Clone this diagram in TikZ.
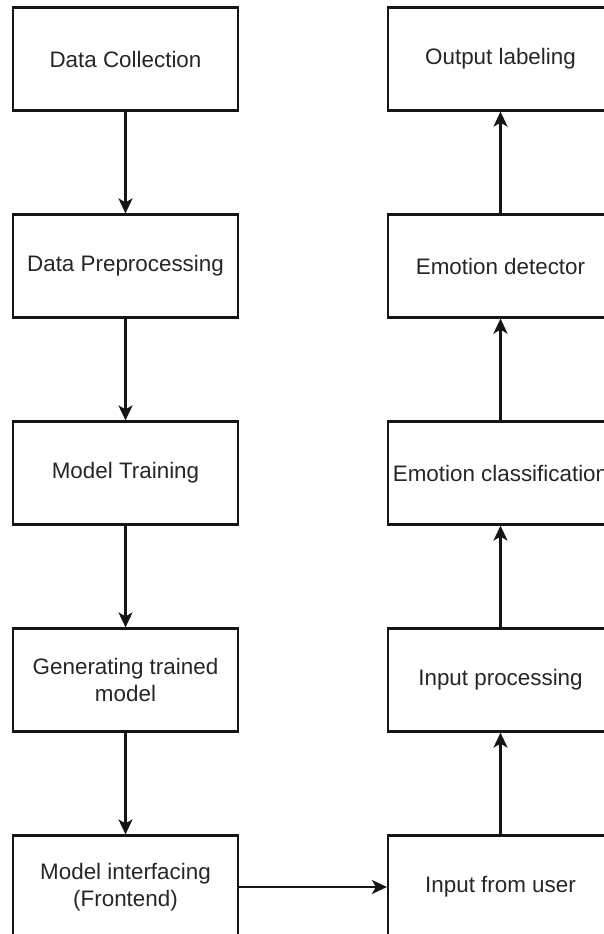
\documentclass[tikz,border=0pt]{standalone}
\usepackage{fontspec}
\setmainfont{Liberation Sans}
\usetikzlibrary{arrows.meta}
\definecolor{txt}{HTML}{262626}
\definecolor{ln}{HTML}{151515}
\begin{document}
\begin{tikzpicture}[x=1pt,y=1pt,
  box/.style={draw=ln, line width=2.2pt, minimum width=225pt, minimum height=103pt,
    inner sep=0pt, align=center, text=txt,
    font=\fontsize{22.4}{26.5}\selectfont},
  conn/.style={draw=ln, line width=2.2pt, -{Stealth[length=15pt,width=14pt,inset=4pt]}}]
\useasboundingbox (0,0) rectangle (604,-934);
\begin{scope}
\clip (0,0) rectangle (604,-934);
\node[box] (dc) at (125.5,-59) {Data Collection};
\node[box] (dp) at (125.5,-266) {Data Preprocessing};
\node[box] (mt) at (125.5,-473) {Model Training};
\node[box] (gm) at (125.5,-680) {Generating trained\\model};
\node[box] (mi) at (125.5,-887) {Model interfacing\\(Frontend)};
\node[box] (ol) at (500.5,-59) {Output labeling};
\node[box] (ed) at (500.5,-266) {Emotion detector};
\node[box] (ec) at (500.5,-473) {Emotion classification};
\node[box] (ip) at (500.5,-680) {Input processing};
\node[box] (iu) at (500.5,-887) {Input from user};
\draw[conn] (dc) -- (dp);
\draw[conn] (dp) -- (mt);
\draw[conn] (mt) -- (gm);
\draw[conn] (gm) -- (mi);
\draw[conn] (mi) -- (iu);
\draw[conn] (iu) -- (ip);
\draw[conn] (ip) -- (ec);
\draw[conn] (ec) -- (ed);
\draw[conn] (ed) -- (ol);
\end{scope}
\end{tikzpicture}
\end{document}
